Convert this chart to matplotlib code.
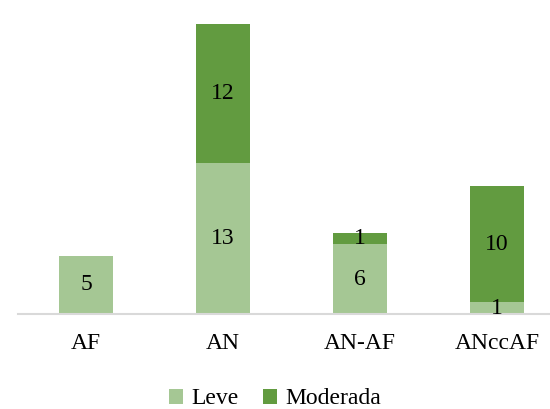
import matplotlib
matplotlib.use('Agg')
import matplotlib.pyplot as plt
import numpy as np

categories = ['AF', 'AN', 'AN-AF', 'ANccAF']
leve = [5, 13, 6, 1]
moderada = [0, 12, 1, 10]

plt.rcParams['font.family'] = ['Liberation Serif', 'DejaVu Serif']

fig = plt.figure(figsize=(5.5, 4.09), dpi=100)
ax = fig.add_axes([17.5 / 550, 95 / 409, 548 / 550, 290 / 409])

x = np.arange(len(categories))
c_leve = '#A5C794'
c_mod = '#629B40'
ax.bar(x, leve, width=0.4, color=c_leve, label='Leve')
ax.bar(x, moderada, width=0.4, bottom=leve, color=c_mod, label='Moderada')

fs = 17
for i in range(len(categories)):
    ax.text(x[i], leve[i] / 2, str(leve[i]), ha='center', va='center', fontsize=fs)
    if moderada[i] > 0:
        ax.text(x[i], leve[i] + moderada[i] / 2, str(moderada[i]), ha='center', va='center', fontsize=fs)

ax.set_xlim(-0.5, 3.5)
ax.set_ylim(0, 25)
ax.set_xticks(x)
ax.set_xticklabels(categories, fontsize=fs)
ax.tick_params(axis='x', length=0, pad=14)
ax.set_yticks([])
for s in ['top', 'right', 'left']:
    ax.spines[s].set_visible(False)
ax.spines['bottom'].set_color('#D9D9D9')
ax.spines['bottom'].set_linewidth(1.5)

fig.legend(loc='center', bbox_to_anchor=(0.5, 10 / 409), ncol=2, frameon=False,
           fontsize=fs, handlelength=0.6, handleheight=0.6, handletextpad=0.35,
           columnspacing=1.0)

fig.savefig('out.png', dpi=100)
